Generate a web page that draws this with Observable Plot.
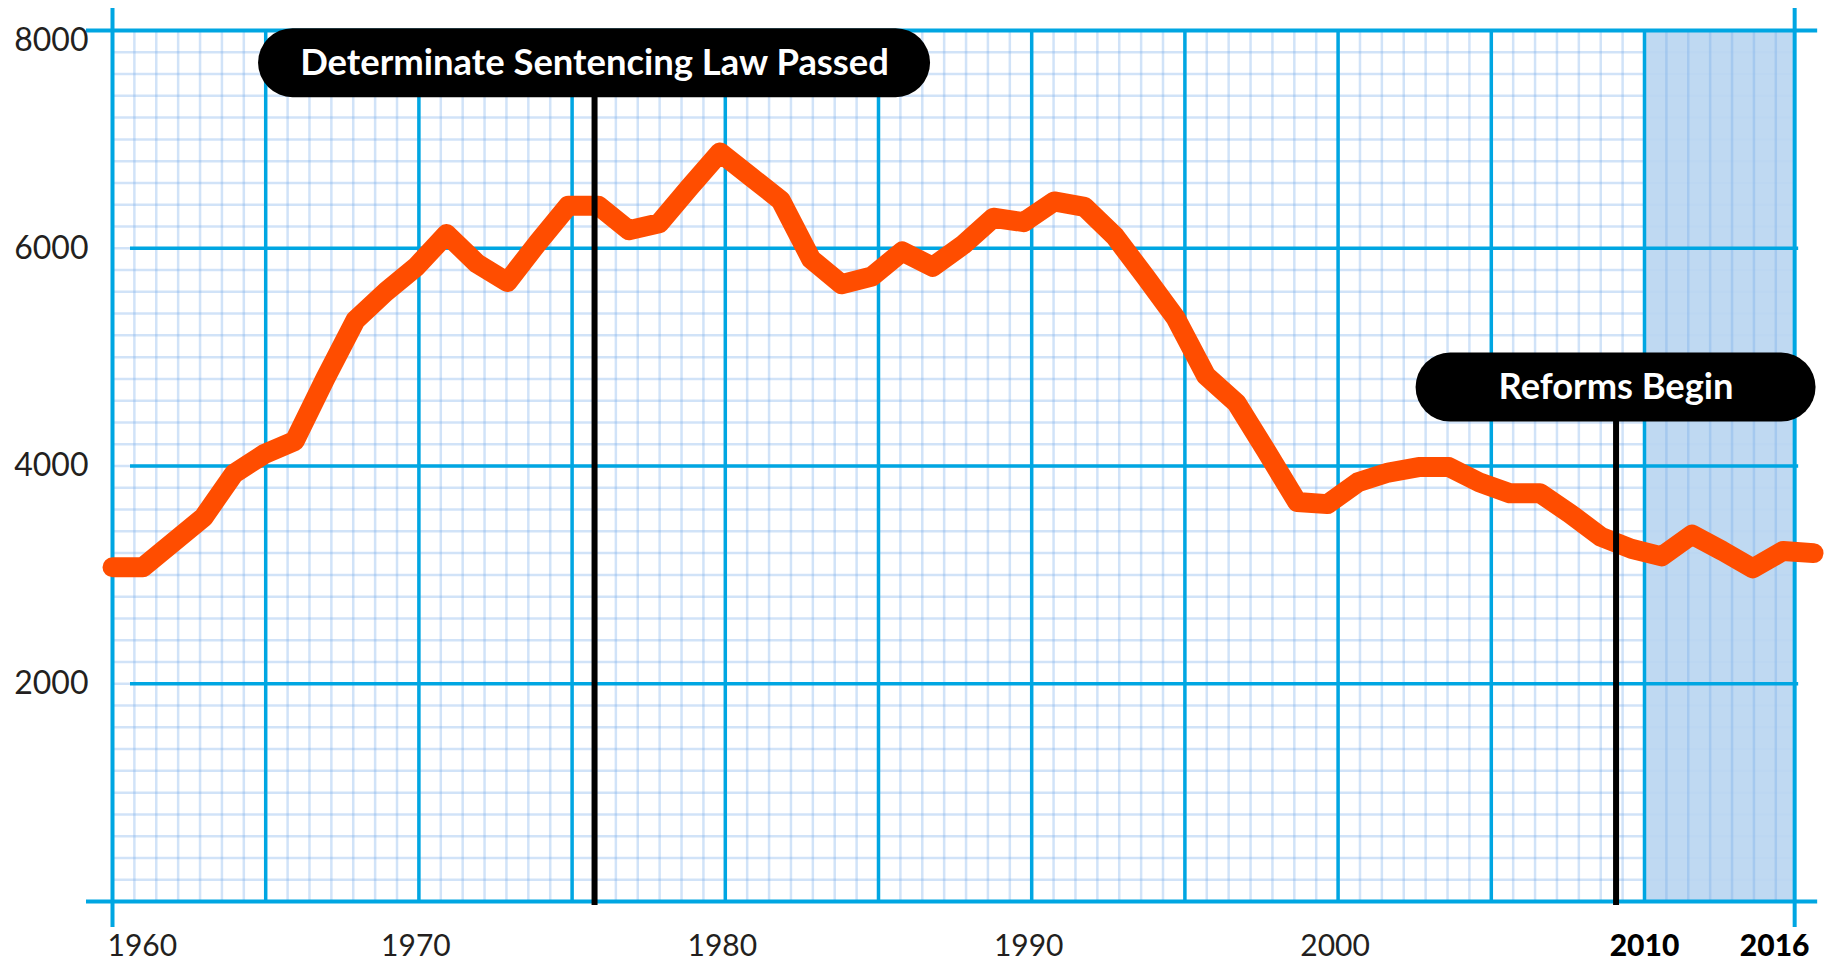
<!DOCTYPE html>
<html>
<head>
<meta charset="utf-8">
<script src="https://cdn.jsdelivr.net/npm/d3@7"></script>
<script src="https://cdn.jsdelivr.net/npm/@observablehq/plot@0.6"></script>
<style>
  html, body { margin: 0; padding: 0; background: #fff; }
  #chart svg { display: block; }
</style>
</head>
<body>
<div id="chart"></div>
<script>
// ---------------- DATA ----------------
const years = [
  1960, 1961, 1962, 1963, 1964, 1965, 1966, 1967, 1968, 1969,
  1970, 1971, 1972, 1973, 1974, 1975, 1976, 1977, 1978, 1979,
  1980, 1981, 1982, 1983, 1984, 1985, 1986, 1987, 1988, 1989,
  1990, 1991, 1992, 1993, 1994, 1995, 1996, 1997, 1998, 1999,
  2000, 2001, 2002, 2003, 2004, 2005, 2006, 2007, 2008, 2009,
  2010, 2011, 2012, 2013, 2014, 2015, 2016
];
const values = [
  3070, 3070, 3300, 3530, 3930, 4110, 4230, 4800, 5340, 5600,
  5830, 6130, 5860, 5690, 6050, 6390, 6390, 6165, 6230, 6560,
  6880, 6660, 6440, 5900, 5670, 5740, 5970, 5830, 6030, 6280,
  6240, 6430, 6380, 6110, 5740, 5360, 4830, 4580, 4130, 3670,
  3650, 3850, 3940, 3990, 3990, 3850, 3750, 3750, 3560, 3350,
  3240, 3170, 3370, 3220, 3060, 3220, 3200
];
const yTickValues = [2000, 4000, 6000, 8000];
const yTickLabels = ["2000", "4000", "6000", "8000"];
const xTickYears = [1960, 1970, 1980, 1990, 2000, 2010, 2016];
const xTickLabels = ["1960", "1970", "1980", "1990", "2000", "2010", "2016"];
const boldTickLabels = ["2010", "2016"];
const annotationYears = [1975.87, 2009.5];
const annotationLabels = ["Determinate Sentencing Law Passed", "Reforms Begin"];
const shadeStartLabel = 2010;

// ---------------- LAYOUT / STYLE ----------------
// The background is graph paper whose squares do not fall exactly on whole years:
// one major square spans paperPitch years of the data scale, with 7 minor squares in it.
const gridStart = 1960;
const paperPitch = 5.0436;
const gridEnd = 2015.38;                  // right edge of the paper frame
const paperX = yr => Math.min(gridStart + (yr - gridStart) / 5 * paperPitch, gridEnd);
const annotationLevels = [7700, 4720];    // vertical placement of the label pills
const pillWidths = [672, 400], pillHeight = 69;
const labelWidths = [589, 235];
const blue = "#00A6E2";
const minorBlue = "#6FA8E8";
const orange = "#FF4D00";
const font = "Lato, 'Open Sans', sans-serif";

const data = years.map((year, i) => ({year, value: values[i]}));
const annotations = annotationYears.map((year, i) => ({
  year, label: annotationLabels[i], level: annotationLevels[i], w: pillWidths[i], tw: labelWidths[i]
}));
const yTicks = yTickValues.map((v, i) => ({v, label: yTickLabels[i]}));
const xTicks = xTickYears.map((yr, i) => ({
  px: paperX(yr), label: xTickLabels[i], bold: boldTickLabels.includes(xTickLabels[i])
}));

// graph-paper grid positions (decorative)
const minorX = d3.range(1, 77).map(k => gridStart + k * paperPitch / 7).filter(x => x < gridEnd - 0.1);
const minorY = d3.range(200, 8000, 200);
const majorX = d3.range(1, 11).map(k => gridStart + k * paperPitch);
const majorY = [2000, 4000, 6000];
const shadeStart = paperX(shadeStartLabel);

function pillMark(index, scales) {
  const g = d3.create("svg:g");
  for (const a of annotations) {
    const cx = scales.x(a.year), cy = scales.y(a.level);
    g.append("rect")
      .attr("x", cx - a.w / 2).attr("y", cy - pillHeight / 2)
      .attr("width", a.w).attr("height", pillHeight)
      .attr("rx", pillHeight / 2).attr("ry", pillHeight / 2)
      .attr("fill", "#000");
  }
  return g.node();
}

const chart = Plot.plot({
  width: 1828,
  height: 962,
  style: {background: "white", fontFamily: font},
  x: {domain: [1960, 2016], range: [112, 1813], axis: null},
  y: {domain: [0, 8000], range: [901, 30], axis: null},
  marks: [
    // minor horizontal grid
    Plot.ruleY(minorY, {y: d => d, x1: gridStart, x2: gridEnd, stroke: minorBlue, strokeOpacity: 0.32, strokeWidth: 2.5}),
    // shaded period
    Plot.rect([0], {x1: shadeStart, x2: gridEnd, y1: 0, y2: 8000, fill: "#BAD6F1", fillOpacity: 0.93}),
    // minor vertical grid
    Plot.ruleX(minorX, {x: d => d, y1: 8000, y2: 0, stroke: minorBlue, strokeOpacity: 0.32, strokeWidth: 2.5}),
    // major grid
    Plot.ruleX(majorX, {x: d => d, y1: 8000, y2: 0, stroke: blue, strokeWidth: 3.5}),
    Plot.ruleY(majorY, {y: d => d, x1: gridStart, x2: gridEnd, insetLeft: 18, insetRight: -4, stroke: blue, strokeWidth: 3.5}),
    // frame
    Plot.ruleY([0, 8000], {y: d => d, x1: gridStart, x2: gridEnd, insetLeft: -26, insetRight: -23, stroke: blue, strokeWidth: 4}),
    Plot.ruleX([gridStart, gridEnd], {x: d => d, y1: 8000, y2: 0, insetTop: -22, insetBottom: -26, stroke: blue, strokeWidth: 4}),
    // data line
    Plot.line(data, {x: "year", y: "value", stroke: orange, strokeWidth: 20, strokeLinejoin: "round", strokeLinecap: "round"}),
    // annotation rules + pills
    Plot.ruleX(annotations, {x: "year", y1: "level", y2: 0, insetBottom: -4, stroke: "#000", strokeWidth: 6}),
    pillMark,
    Plot.text(annotations, {x: "year", y: "level", text: "label", fill: "white", fontWeight: 700, fontSize: 31, fontFamily: font}),
    // y tick labels
    Plot.text(yTicks.filter(d => d.v < 8000), {x: gridStart, y: "v", text: "label", textAnchor: "end", dx: -24, fontSize: 32, fill: "#231F20", fontFamily: font}),
    Plot.text(yTicks.filter(d => d.v === 8000), {x: gridStart, y: "v", text: "label", textAnchor: "end", dx: -24, dy: 10, fontSize: 32, fill: "#231F20", fontFamily: font}),
    // x tick labels
    Plot.text(xTicks.filter(d => d.label === xTickLabels[0]), {x: "px", y: 0, text: "label", textAnchor: "start", dx: -5, dy: 45, fontSize: 30, fill: "#231F20", fontFamily: font}),
    Plot.text(xTicks.filter((d, i) => i > 0 && !d.bold), {x: "px", y: 0, text: "label", dx: -3, dy: 45, fontSize: 30, fill: "#231F20", fontFamily: font}),
    Plot.text(xTicks.filter(d => d.bold && d.px < gridEnd), {x: "px", y: 0, text: "label", dy: 45, fontSize: 30, fontWeight: 900, fill: "#000", fontFamily: font}),
    Plot.text(xTicks.filter(d => d.bold && d.px >= gridEnd), {x: "px", y: 0, text: "label", dx: -20, dy: 45, fontSize: 30, fontWeight: 900, fill: "#000", fontFamily: font})
  ]
});

document.getElementById("chart").appendChild(chart);

// fit the pill labels to the widths seen in the reference
d3.select(chart).selectAll("text").each(function() {
  const a = annotations.find(a => a.label === this.textContent);
  if (!a) return;
  const w = this.getComputedTextLength();
  if (w > 0) {
    const fs = parseFloat(getComputedStyle(this).fontSize) || 31;
    this.setAttribute("font-size", (fs * a.tw / w).toFixed(2));
  }
});
</script>
</body>
</html>
